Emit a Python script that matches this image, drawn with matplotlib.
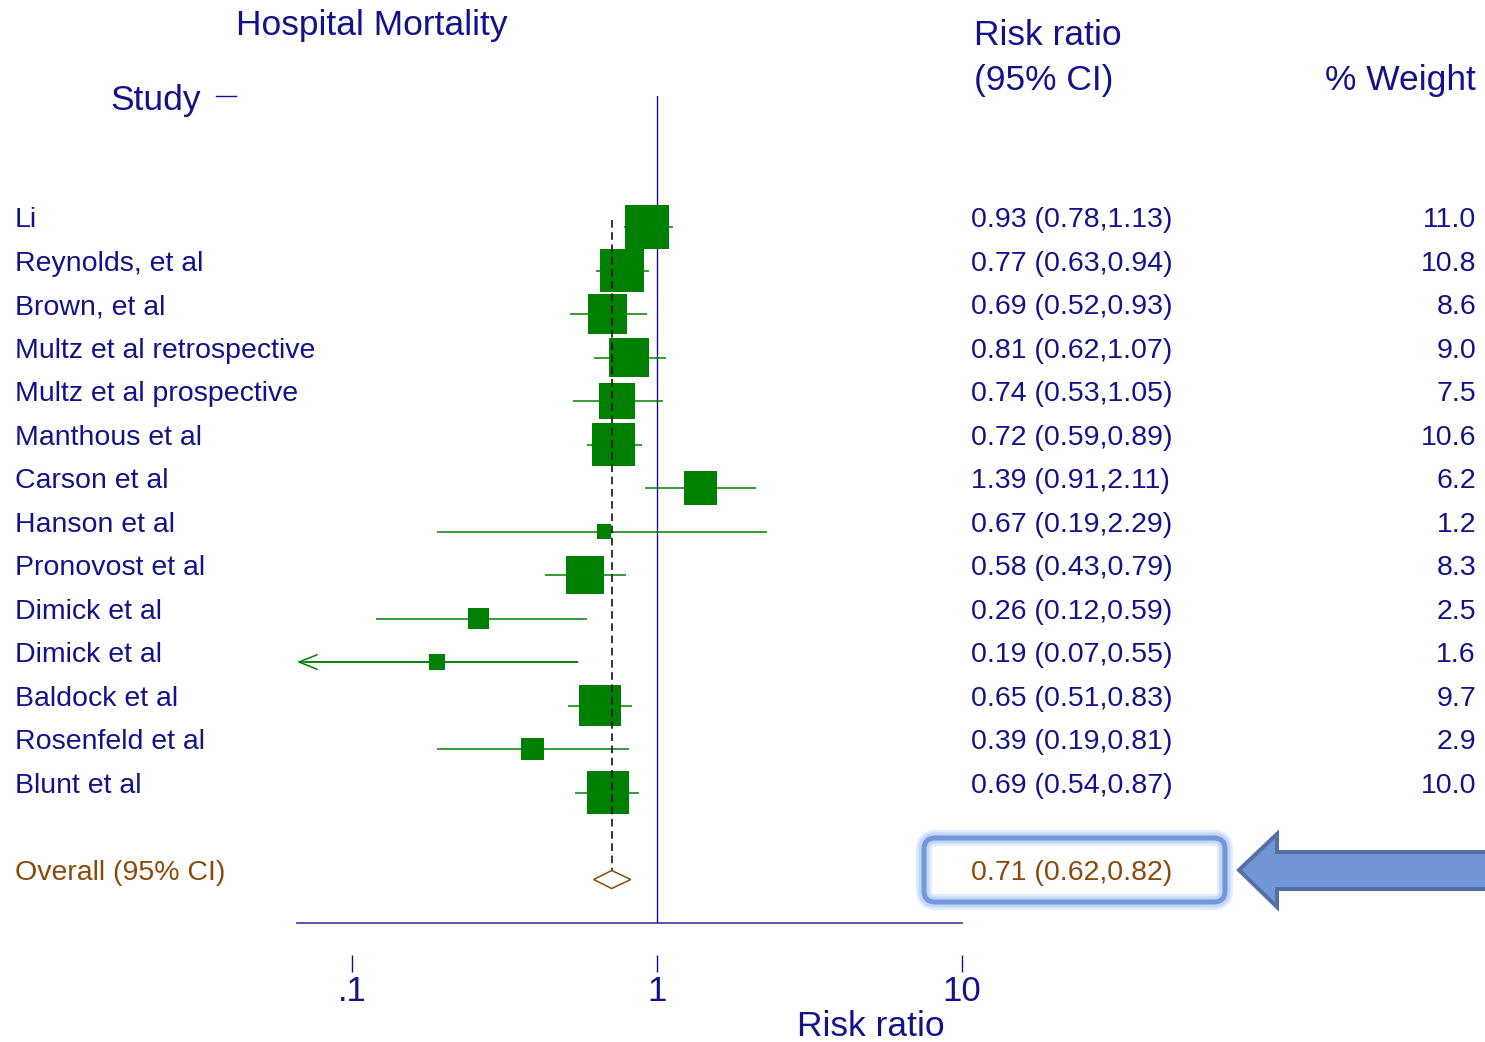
import numpy as np
import matplotlib
matplotlib.use("Agg")
import matplotlib.pyplot as plt
import matplotlib.transforms as mtransforms
from matplotlib.patches import Polygon, FancyBboxPatch
from matplotlib.lines import Line2D

# Study level data (risk ratio, 95% CI, % weight)
studies = ["Li", "Reynolds, et al", "Brown, et al", "Multz et al retrospective",
           "Multz et al prospective", "Manthous et al", "Carson et al", "Hanson et al",
           "Pronovost et al", "Dimick et al", "Dimick et al", "Baldock et al",
           "Rosenfeld et al", "Blunt et al"]
rr = [0.93, 0.77, 0.69, 0.81, 0.74, 0.72, 1.39, 0.67, 0.58, 0.26, 0.19, 0.65, 0.39, 0.69]
ci_low = [0.78, 0.63, 0.52, 0.62, 0.53, 0.59, 0.91, 0.19, 0.43, 0.12, 0.07, 0.51, 0.19, 0.54]
ci_high = [1.13, 0.94, 0.93, 1.07, 1.05, 0.89, 2.11, 2.29, 0.79, 0.59, 0.55, 0.83, 0.81, 0.87]
weights = [11.0, 10.8, 8.6, 9.0, 7.5, 10.6, 6.2, 1.2, 8.3, 2.5, 1.6, 9.7, 2.9, 10.0]

overall_rr = 0.71
overall_low = 0.62
overall_high = 0.82

xticks = [0.1, 1, 10]
xtick_labels = [".1", "1", "10"]

W, H = 1485, 1042
NAVY = "#12128a"
BROWN = "#8a4a0c"
GREEN = "#008000"
FONT = "Liberation Sans"

plt.rcParams["font.family"] = [FONT, "DejaVu Sans"]

fig = plt.figure(figsize=(W / 100, H / 100), dpi=100)
fig.patch.set_facecolor("white")


def fx(px):
    return px / W


def fy(py):
    return 1 - py / H


# plot area: x .1 at 352px, 1 at 657px, 10 at 962px; rows every 43.5px
xmin = 10 ** (-1 - 55 / 305)
row0, step = 227, 43.5
ax = fig.add_axes([fx(297), fy(923), fx(962) - fx(297), (923 - 96) / H])
ax.set_xscale("log")
ax.set_xlim(xmin, 10)
ax.set_ylim((923 - row0) / step, (96 - row0) / step)
for s in ["top", "right", "left", "bottom"]:
    ax.spines[s].set_visible(False)
ax.spines["bottom"].set_position(("outward", 32 * 0.72))
ax.set_yticks([])
ax.set_xticks(xticks)
ax.set_xticklabels(xtick_labels)
ax.xaxis.set_minor_locator(matplotlib.ticker.NullLocator())
ax.tick_params(axis="x", direction="out", length=17 * 0.72, width=1, color=NAVY,
               labelcolor=NAVY, labelsize=25, pad=2)
ax.patch.set_alpha(0)

rows = np.arange(len(studies))
overall_row = len(studies) + 1

# axis line and reference lines
ax.axhline(ax.get_ylim()[0], color="#4848a8", lw=1.3, clip_on=False)
ax.axvline(1, color=NAVY, lw=1)
ax.plot([overall_rr, overall_rr], [-0.16, overall_row], color="black", lw=1.1,
        ls=(0, (5, 3)), zorder=4)

# confidence intervals (truncated at the axis with an arrow)
lo_plot = np.maximum(ci_low, xmin)
ax.hlines(rows, lo_plot, ci_high, color=GREEN, lw=1.1, zorder=2)
for r, lo, hi in zip(rows, ci_low, ci_high):
    if lo <= 0.07:
        ax.annotate("", xy=(xmin, r), xytext=(hi, r),
                    arrowprops=dict(arrowstyle="->,head_length=1.0,head_width=0.4",
                                    color=GREEN, lw=1.1, shrinkA=0, shrinkB=0,
                                    mutation_scale=13))

# weighted squares
ax.scatter(rr, rows, s=np.array(weights) * 92, marker="s", color=GREEN,
           linewidths=0, zorder=3)

# overall diamond
dh = 9 / step
diamond = Polygon([(overall_low, overall_row), (overall_rr, overall_row - dh),
                   (overall_high, overall_row), (overall_rr, overall_row + dh)],
                  closed=True, facecolor="white", edgecolor=BROWN, lw=1.1, zorder=5)
ax.add_patch(diamond)

# row labels
trans = mtransforms.blended_transform_factory(fig.transFigure, ax.transData)
for r, name, v, lo, hi, w in zip(rows, studies, rr, ci_low, ci_high, weights):
    ax.text(fx(15), r, name, transform=trans, ha="left", va="baseline",
            fontsize=20.5, color=NAVY)
    ax.text(fx(971), r, f"{v:.2f} ({lo:.2f},{hi:.2f})", transform=trans,
            ha="left", va="baseline", fontsize=20.5, color=NAVY)
    ax.text(fx(1476), r, f"{w:.1f}", transform=trans, ha="right", va="baseline",
            fontsize=20.5, color=NAVY)

ax.text(fx(15), overall_row, "Overall (95% CI)", transform=trans, ha="left",
        va="baseline", fontsize=20.5, color=BROWN)
ax.text(fx(971), overall_row, f"{overall_rr:.2f} ({overall_low:.2f},{overall_high:.2f})",
        transform=trans, ha="left", va="baseline", fontsize=20.5, color=BROWN, zorder=6)

# headers
fig.text(fx(236), fy(35), "Hospital Mortality", ha="left", va="baseline",
         fontsize=25.5, color=NAVY)
fig.text(fx(110), fy(110), "Study", ha="left", va="baseline", fontsize=25.5, color=NAVY)
fig.add_artist(Line2D([fx(216), fx(236)], [fy(96), fy(96)], color=NAVY, lw=1))
fig.text(fx(974), fy(45), "Risk ratio", ha="left", va="baseline", fontsize=25.5, color=NAVY)
fig.text(fx(974), fy(90), "(95% CI)", ha="left", va="baseline", fontsize=25.5, color=NAVY)
fig.text(fx(1476), fy(90), "% Weight", ha="right", va="baseline", fontsize=25.5, color=NAVY)
fig.text(fx(871), fy(1036), "Risk ratio", ha="center", va="baseline", fontsize=25.5,
         color=NAVY)

# highlight box around the pooled estimate
ident = mtransforms.IdentityTransform()
bx0, bx1, by0, by1 = 924, 1225, 838, 902
for lw, col in [(16, "#e2ecfd"), (11, "#c4d7fa"), (5, "#7398da")]:
    box = FancyBboxPatch((bx0, H - by1), bx1 - bx0, by1 - by0,
                         boxstyle="round,pad=0,rounding_size=11",
                         transform=ident, facecolor="none", edgecolor=col,
                         lw=lw * 0.72, zorder=1)
    fig.add_artist(box)

# block arrow pointing at the box
arrow_pts = [(1239, 870), (1277, 834), (1277, 852), (1490, 852), (1490, 889),
             (1277, 889), (1277, 907)]
arrow = Polygon([(x, H - y) for x, y in arrow_pts], closed=True, transform=ident,
                facecolor="#7196d6", edgecolor="#5470a2", lw=4 * 0.72, joinstyle="miter")
fig.add_artist(arrow)

fig.savefig("out.png", dpi=100, facecolor="white")
